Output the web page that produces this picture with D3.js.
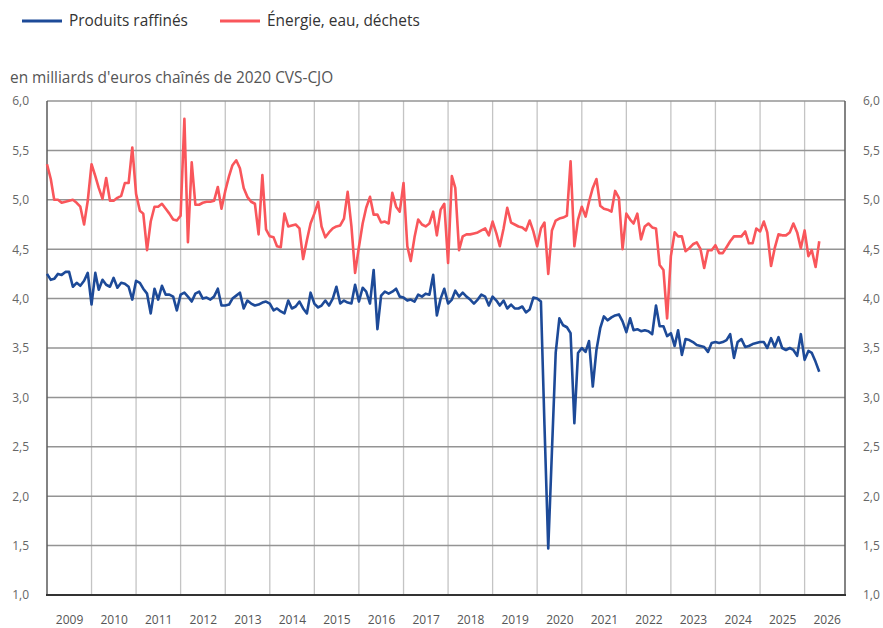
<!DOCTYPE html>
<html>
<head>
<meta charset="utf-8">
<script src="https://cdn.jsdelivr.net/npm/d3@7"></script>
<style>
  body { margin: 0; background: #fff; }
  svg { display: block; font-family: "Open Sans", sans-serif; }
</style>
</head>
<body>
<svg id="chart" width="883" height="628"></svg>
<script>
// monthly series, first point = January 2009
const START_YEAR = 2009;

const raffines = [
  4.25, 4.19, 4.20, 4.25, 4.24, 4.27, 4.27, 4.12, 4.16, 4.13, 4.18, 4.26,
  3.94, 4.26, 4.09, 4.19, 4.14, 4.12, 4.21, 4.11, 4.16, 4.15, 4.12, 3.99,
  4.18, 4.16, 4.10, 4.05, 3.85, 4.10, 3.99, 4.13, 4.04, 4.04, 4.02, 3.88,
  4.04, 4.06, 4.02, 3.97, 4.05, 4.07, 4.00, 4.01, 3.99, 4.02, 4.10, 3.93,
  3.93, 3.94, 4.00, 4.03, 4.06, 3.90, 3.98, 3.95, 3.93, 3.94, 3.96, 3.97,
  3.95, 3.88, 3.90, 3.87, 3.85, 3.98, 3.90, 3.92, 3.97, 3.90, 3.85, 4.06,
  3.95, 3.91, 3.93, 3.98, 3.93, 4.00, 4.12, 3.95, 3.98, 3.96, 3.95, 4.14,
  3.97, 4.11, 4.07, 3.95, 4.29, 3.69, 4.03, 4.07, 4.05, 4.07, 4.10, 4.02,
  4.01, 3.98, 3.99, 3.97, 4.04, 4.02, 4.05, 4.04, 4.24, 3.83, 4.00, 4.10,
  3.95, 3.99, 4.08, 4.02, 4.06, 4.02, 3.99, 3.95, 3.99, 4.04, 4.02, 3.93,
  4.02, 3.98, 3.93, 3.98, 3.90, 3.94, 3.90, 3.90, 3.92, 3.86, 3.89, 4.01,
  4.00, 3.97, 2.72, 1.47, 2.45, 3.45, 3.80, 3.73, 3.71, 3.65, 2.74, 3.45,
  3.50, 3.46, 3.57, 3.11, 3.48, 3.70, 3.82, 3.78, 3.81, 3.83, 3.84, 3.77,
  3.66, 3.80, 3.68, 3.69, 3.67, 3.68, 3.67, 3.64, 3.93, 3.72, 3.72, 3.62,
  3.65, 3.52, 3.68, 3.43, 3.59, 3.58, 3.56, 3.53, 3.52, 3.51, 3.46, 3.55,
  3.56, 3.55, 3.56, 3.58, 3.64, 3.40, 3.56, 3.59, 3.51, 3.52, 3.54, 3.55,
  3.56, 3.56, 3.50, 3.60, 3.51, 3.61, 3.50, 3.48, 3.50, 3.48, 3.42, 3.64,
  3.38, 3.47, 3.45, 3.36, 3.26
];

const energie = [
  5.36, 5.21, 5.00, 5.00, 4.97, 4.98, 4.99, 5.00, 4.97, 4.93, 4.75, 4.99,
  5.36, 5.24, 5.12, 5.01, 5.22, 4.99, 4.99, 5.02, 5.04, 5.17, 5.17, 5.53,
  5.06, 4.89, 4.86, 4.49, 4.78, 4.93, 4.93, 4.96, 4.91, 4.86, 4.80, 4.79,
  4.84, 5.82, 4.57, 5.38, 4.95, 4.95, 4.97, 4.98, 4.98, 4.99, 5.13, 4.91,
  5.09, 5.24, 5.35, 5.40, 5.32, 5.12, 5.03, 4.98, 4.96, 4.65, 5.25, 4.70,
  4.63, 4.62, 4.53, 4.52, 4.86, 4.73, 4.74, 4.75, 4.71, 4.40, 4.59, 4.76,
  4.86, 4.98, 4.73, 4.62, 4.67, 4.71, 4.73, 4.74, 4.81, 5.08, 4.73, 4.26,
  4.52, 4.76, 4.92, 5.03, 4.85, 4.85, 4.77, 4.78, 4.76, 5.07, 4.93, 4.88,
  5.17, 4.53, 4.38, 4.62, 4.80, 4.75, 4.73, 4.76, 4.88, 4.64, 4.90, 4.96,
  4.36, 5.24, 5.12, 4.49, 4.63, 4.65, 4.65, 4.66, 4.67, 4.69, 4.71, 4.64,
  4.78, 4.66, 4.53, 4.71, 4.92, 4.77, 4.75, 4.73, 4.72, 4.69, 4.79, 4.68,
  4.53, 4.71, 4.77, 4.25, 4.69, 4.79, 4.81, 4.82, 4.84, 5.39, 4.53, 4.80,
  4.93, 4.83, 4.98, 5.12, 5.21, 4.94, 4.91, 4.90, 4.88, 5.09, 5.02, 4.50,
  4.86, 4.80, 4.76, 4.86, 4.60, 4.73, 4.76, 4.72, 4.71, 4.34, 4.29, 3.80,
  4.43, 4.67, 4.63, 4.63, 4.48, 4.51, 4.55, 4.57, 4.50, 4.31, 4.49, 4.49,
  4.54, 4.46, 4.46, 4.52, 4.58, 4.63, 4.63, 4.63, 4.68, 4.56, 4.56, 4.71,
  4.68, 4.78, 4.67, 4.33, 4.51, 4.65, 4.64, 4.64, 4.67, 4.76, 4.67, 4.51,
  4.69, 4.43, 4.49, 4.32, 4.58
];

const seriesNames = ["Produits raffinés", "Énergie, eau, déchets"];
const seriesColors = ["#1d4a98", "#f9565b"];
const yTicks = [1.0, 1.5, 2.0, 2.5, 3.0, 3.5, 4.0, 4.5, 5.0, 5.5, 6.0];
const years = d3.range(2009, 2027);

const width = 883;
const height = 628;
const margin = { top: 101, right: 38, bottom: 33, left: 47 };

const fr = d3.formatLocale({ decimal: ",", thousands: " ", grouping: [3], currency: ["", " €"] });
const fmt = fr.format(".1f");

const monthDate = i => new Date(START_YEAR, i, 1);

const x = d3.scaleTime()
    .domain([new Date(2009, 0, 1), new Date(2026, 10, 28)])
    .range([margin.left, width - margin.right]);

const y = d3.scaleLinear()
    .domain([1, 6])
    .range([height - margin.bottom, margin.top]);

const svg = d3.select("#chart");

// vertical grid (year boundaries)
svg.append("g")
    .selectAll("line")
    .data(years.slice(1))
    .join("line")
    .attr("x1", d => x(new Date(d, 0, 1)))
    .attr("x2", d => x(new Date(d, 0, 1)))
    .attr("y1", y(6))
    .attr("y2", y(1))
    .attr("stroke", "#c4c4c4")
    .attr("stroke-width", 1.3);

// horizontal grid
svg.append("g")
    .selectAll("line")
    .data(yTicks.filter(d => d > 1))
    .join("line")
    .attr("x1", margin.left)
    .attr("x2", width - margin.right)
    .attr("y1", d => y(d))
    .attr("y2", d => y(d))
    .attr("stroke", "#949494")
    .attr("stroke-width", 1.5);

// frame sides
svg.append("line")
    .attr("x1", margin.left).attr("x2", margin.left)
    .attr("y1", y(6)).attr("y2", y(1))
    .attr("stroke", "#5a5a5a").attr("stroke-width", 1.5);
svg.append("line")
    .attr("x1", width - margin.right).attr("x2", width - margin.right)
    .attr("y1", y(6)).attr("y2", y(1))
    .attr("stroke", "#5a5a5a").attr("stroke-width", 1.5);

// left and right axes
const yLeft = svg.append("g")
    .attr("transform", `translate(${margin.left},0)`)
    .call(d3.axisLeft(y).tickValues(yTicks).tickFormat(fmt).tickSize(0).tickPadding(18));
const yRight = svg.append("g")
    .attr("transform", `translate(${width - margin.right},0)`)
    .call(d3.axisRight(y).tickValues(yTicks).tickFormat(fmt).tickSize(0).tickPadding(18));
[yLeft, yRight].forEach(g => {
    g.select(".domain").remove();
    g.selectAll("text")
        .attr("fill", "#666")
        .style("font-size", "12px")
        .style("font-family", "'Open Sans', sans-serif");
});

// bottom axis: year labels centred in each year
const xAxis = svg.append("g")
    .attr("transform", `translate(0,${height - margin.bottom})`)
    .call(d3.axisBottom(x)
        .tickValues(years.map(d => new Date(d, 6, 1)))
        .tickFormat(d3.timeFormat("%Y"))
        .tickSize(0)
        .tickPadding(20));
xAxis.select(".domain").remove();
xAxis.selectAll("text")
    .attr("fill", "#555")
    .style("font-size", "12px")
    .style("font-family", "'Open Sans', sans-serif");

// baseline
svg.append("line")
    .attr("x1", margin.left - 1)
    .attr("x2", width - margin.right + 1)
    .attr("y1", y(1))
    .attr("y2", y(1))
    .attr("stroke", "#333")
    .attr("stroke-width", 2);

// lines
const line = d3.line()
    .x((d, i) => x(monthDate(i)))
    .y(d => y(d));

[raffines, energie].forEach((s, k) => {
    svg.append("path")
        .datum(s)
        .attr("fill", "none")
        .attr("stroke", seriesColors[k])
        .attr("stroke-width", 2.6)
        .attr("stroke-linejoin", "round")
        .attr("d", line);
});

// legend
const legendX = [22, 220];
const legend = svg.append("g")
    .selectAll("g")
    .data(seriesNames)
    .join("g")
    .attr("transform", (d, i) => `translate(${legendX[i]},21)`);
legend.append("line")
    .attr("x1", 0).attr("x2", 40)
    .attr("stroke", (d, i) => seriesColors[i])
    .attr("stroke-width", 3);
legend.append("text")
    .attr("x", 47)
    .attr("dy", "0.35em")
    .attr("fill", "#333")
    .style("font-size", "15.4px")
    .text(d => d);

// unit
svg.append("text")
    .attr("x", 10)
    .attr("y", 83)
    .attr("fill", "#555")
    .style("font-size", "15.4px")
    .text("en milliards d'euros chaînés de 2020 CVS-CJO");
</script>
</body>
</html>
